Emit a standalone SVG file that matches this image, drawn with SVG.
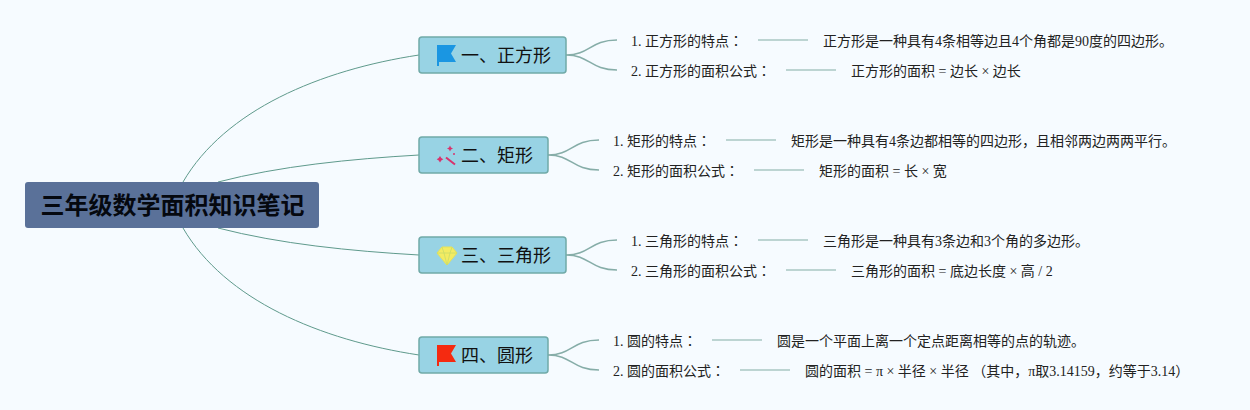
<svg xmlns="http://www.w3.org/2000/svg" width="1250" height="410" viewBox="0 0 1250 410">
<style>
text{font-family:"Liberation Serif","Noto Sans CJK SC",serif;fill:#222}
.t{font-size:14px}
.k{font-family:"Noto Sans CJK TC",serif}
.h{font-family:"Noto Sans CJK SC","Liberation Sans",sans-serif;font-size:18px;fill:#111}
.r{font-family:"Noto Sans CJK SC","Liberation Sans",sans-serif;font-size:24px;font-weight:700;fill:#05080f}
.topic{fill:#98d3e4;stroke:#70aaa8;stroke-width:1.5}
.c{fill:none;stroke:#5f9a8c;stroke-width:1}
.c2{fill:none;stroke:#86ada8;stroke-width:1.5}
.c3{fill:none;stroke:#a9c7c4;stroke-width:1.5}
</style>
<rect width="1250" height="410" fill="#f6fbff"/>
<g id="connectors">
<path class="c" d="M183 182C225 110 320 70 419 55"/>
<path class="c" d="M218 182C280 166 350 159 419 155"/>
<path class="c" d="M218 228C280 244 350 251 419 255"/>
<path class="c" d="M183 228C225 300 320 340 419 355"/>
<path class="c2" d="M566 55C590 55 590 40 617 40M566 55C590 55 590 70 617 70"/>
<path class="c2" d="M548 155C572 155 572 140 599 140M548 155C572 155 572 170 599 170"/>
<path class="c2" d="M566 255C590 255 590 240 617 240M566 255C590 255 590 270 617 270"/>
<path class="c2" d="M548 355C572 355 572 340 599 340M548 355C572 355 572 370 599 370"/>
<path class="c3" d="M758 40H808M786 70H836M726 140H776M754 170H804M758 240H808M786 270H836M712 340H762M740 370H790"/>
</g>
<g id="root"><rect x="25" y="182" width="294" height="46" rx="3" fill="#5a7199"/><text class="r" x="172.500" y="214" text-anchor="middle">三年级数学面积知识笔记</text></g>
<g id="topic1"><rect class="topic" x="419" y="37" width="147" height="36" rx="3"/>
<path d="M437 45H456L451 53.500L456 62H439V66H437Z" fill="#1a96e2"/><text class="h" x="461" y="62">一、正方形</text></g>
<g id="topic2"><rect class="topic" x="419" y="137" width="129" height="36" rx="3"/>
<g fill="#d8326c"><path d="M446 157.500L455 164.500" stroke="#d8326c" stroke-width="2"/><path d="M450 145.500l1 2 2 1-2 1-1 2-1-2-2-1 2-1Z"/><path d="M440 156l1.300 2 2 1.300-2 1.300-1.300 2-1.300-2-2-1.300 2-1.300Z"/><circle cx="454" cy="154" r="1"/></g>
<text class="h" x="461" y="162">二、矩形</text></g>
<g id="topic3"><rect class="topic" x="419" y="237" width="147" height="36" rx="3"/>
<path d="M442 247H452L457 253L447 265L437 253Z" fill="#f3ec62" stroke="#e6e25a"/><path d="M437 253H457M442 247L444 253L447 265L450 253L452 247" fill="none" stroke="#c9dc6a" stroke-width="0.800"/><text class="h" x="461" y="262">三、三角形</text></g>
<g id="topic4"><rect class="topic" x="419" y="337" width="129" height="36" rx="3"/>
<path d="M437 345H456L451 353.500L456 362H439V366H437Z" fill="#f52a10"/><text class="h" x="461" y="362">四、圆形</text></g>
<g id="n1"><text class="t" x="631" y="46">1. 正方形的特点<tspan class="k">：</tspan></text></g>
<g id="n1a"><text class="t" x="823" y="46">正方形是一种具有4条相等边且4个角都是90度的四边形。</text></g>
<g id="n2"><text class="t" x="631" y="76">2. 正方形的面积公式<tspan class="k">：</tspan></text></g>
<g id="n2a"><text class="t" x="851" y="76">正方形的面积 = 边长 × 边长</text></g>
<g id="n3"><text class="t" x="613" y="146">1. 矩形的特点<tspan class="k">：</tspan></text></g>
<g id="n3a"><text class="t" x="791" y="146">矩形是一种具有4条边都相等的四边形，且相邻两边两两平行。</text></g>
<g id="n4"><text class="t" x="613" y="176">2. 矩形的面积公式<tspan class="k">：</tspan></text></g>
<g id="n4a"><text class="t" x="819" y="176">矩形的面积 = 长 × 宽</text></g>
<g id="n5"><text class="t" x="631" y="246">1. 三角形的特点<tspan class="k">：</tspan></text></g>
<g id="n5a"><text class="t" x="823" y="246">三角形是一种具有3条边和3个角的多边形。</text></g>
<g id="n6"><text class="t" x="631" y="276">2. 三角形的面积公式<tspan class="k">：</tspan></text></g>
<g id="n6a"><text class="t" x="851" y="276">三角形的面积 = 底边长度 × 高 / 2</text></g>
<g id="n7"><text class="t" x="613" y="346">1. 圆的特点<tspan class="k">：</tspan></text></g>
<g id="n7a"><text class="t" x="777" y="346">圆是一个平面上离一个定点距离相等的点的轨迹。</text></g>
<g id="n8"><text class="t" x="613" y="376">2. 圆的面积公式<tspan class="k">：</tspan></text></g>
<g id="n8a"><text class="t" x="805" y="376">圆的面积 = π × 半径 × 半径 （其中，π取3.14159，约等于3.14）</text></g>
</svg>
